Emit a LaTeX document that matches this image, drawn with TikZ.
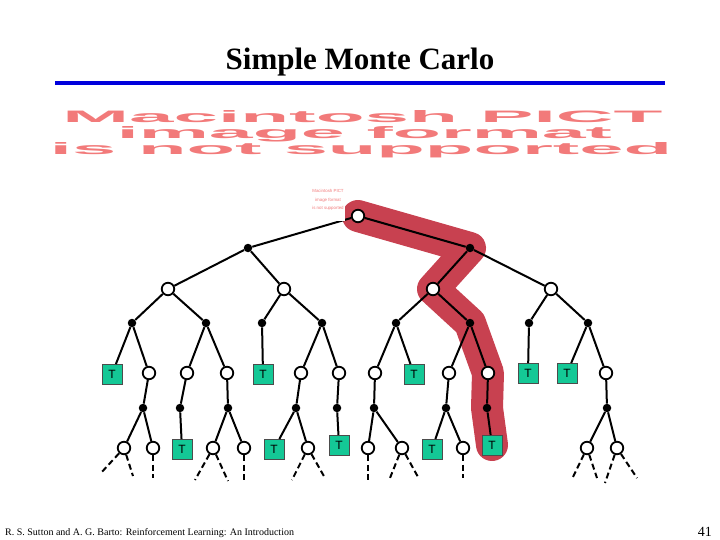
\documentclass[tikz,border=0pt]{standalone}
\usepackage{fontspec}
\setmainfont{Liberation Serif}
\newfontfamily\arialfont{Liberation Sans}
\usepackage{graphicx}
\usetikzlibrary{backgrounds}

\definecolor{pathred}{RGB}{200,65,80}
\definecolor{pictpink}{RGB}{242,122,122}
\definecolor{termgreen}{RGB}{20,200,150}
\definecolor{ruleblue}{RGB}{0,0,220}

\begin{document}
\begin{tikzpicture}[x=1pt,y=-1pt,
    state/.style={circle,draw,fill=white,line width=1.8pt,minimum size=12.5pt,inner sep=0pt},
    action/.style={circle,fill=black,minimum size=8.5pt,inner sep=0pt},
    term/.style={draw=black!70,fill=termgreen,minimum size=19.5pt,inner sep=0pt,font=\arialfont\fontsize{12}{12}\selectfont},
    edge/.style={line width=2pt},
    tail/.style={line width=2pt,dash pattern=on 6pt off 3.5pt},
    backup/.style={pathred,line width=32pt,line cap=round,line join=round}]
    \useasboundingbox (0,0) rectangle (720,540);

    % heading
    \node[anchor=base,font=\bfseries\fontsize{31}{36}\selectfont] (title) at (360,70) {Simple Monte Carlo};
    \draw[ruleblue,line width=4pt] (55,83) -- (665,83);

    % missing picture text
    \node[anchor=base,text=pictpink,inner sep=0pt] (pict1) at (362.5,123) {\resizebox{600pt}{12pt}{\arialfont\bfseries Macintosh PICT}};
    \node[anchor=base,text=pictpink,inner sep=0pt] (pict2) at (364.5,138.5) {\resizebox{495pt}{12pt}{\arialfont\bfseries image format}};
    \node[anchor=base,text=pictpink,inner sep=0pt] (pict3) at (361,155) {\resizebox{622pt}{12pt}{\arialfont\bfseries is not supported}};

    % root and first levels
    \node[state] (s0) at (358,216) {};
    \node[action] (a1) at (248,248) {};
    \node[action] (a2) at (470,248) {};
    \node[state] (s1) at (168,289) {};
    \node[state] (s2) at (284,289) {};
    \node[state] (s3) at (433,289) {};
    \node[state] (s4) at (551,289) {};
    \node[action] (b1) at (132,323) {};
    \node[action] (b2) at (206,323) {};
    \node[action] (b3) at (262,323) {};
    \node[action] (b4) at (322,323) {};
    \node[action] (b5) at (396,323) {};
    \node[action] (b6) at (470,323) {};
    \node[action] (b7) at (529,323) {};
    \node[action] (b8) at (588,323) {};

    % third level
    \node[term] (n1) at (112,374) {T};
    \node[state] (n2) at (149,373) {};
    \node[state] (n3) at (187,373) {};
    \node[state] (n4) at (227,373) {};
    \node[term] (n5) at (263,374) {T};
    \node[state] (n6) at (301,373) {};
    \node[state] (n7) at (339,373) {};
    \node[state] (n8) at (375,373) {};
    \node[term] (n9) at (414,374) {T};
    \node[state] (n10) at (449,373) {};
    \node[state] (n11) at (488,373) {};
    \node[term] (n12) at (528,373) {T};
    \node[term] (n13) at (567,373) {T};
    \node[state] (n14) at (606,373) {};
    \node[action] (c1) at (143,408) {};
    \node[action] (c2) at (180,408) {};
    \node[action] (c3) at (228,408) {};
    \node[action] (c4) at (296,408) {};
    \node[action] (c5) at (337,408) {};
    \node[action] (c6) at (374,408) {};
    \node[action] (c7) at (446,408) {};
    \node[action] (c8) at (487,408) {};
    \node[action] (c9) at (607,408) {};

    % fourth level
    \node[state] (m1) at (124,448) {};
    \node[state] (m2) at (153,448) {};
    \node[term] (m3) at (182,449) {T};
    \node[state] (m4) at (213,448) {};
    \node[state] (m5) at (244,448) {};
    \node[term] (m6) at (274,449) {T};
    \node[state] (m7) at (308,448) {};
    \node[term] (m8) at (339,445) {T};
    \node[state] (m9) at (368,448) {};
    \node[state] (m10) at (402,448) {};
    \node[term] (m11) at (432,449) {T};
    \node[state] (m12) at (463,448) {};
    \node[term] (m13) at (492,445) {T};
    \node[state] (m14) at (587,448) {};
    \node[state] (m15) at (617,448) {};

    % sampled episode
    \begin{scope}[on background layer]
        \draw[backup] (s0.center) -- (a2.center) -- (s3.center) -- (b6.center)
            -- (n11.center) -- (c8.center) -- (m13.center);
    \end{scope}

    \foreach \p/\c in {s0/a1,s0/a2,a1/s1,a1/s2,a2/s3,a2/s4,
        s1/b1,s1/b2,s2/b3,s2/b4,s3/b5,s3/b6,s4/b7,s4/b8,
        b1/n1,b1/n2,b2/n3,b2/n4,b3/n5,b4/n6,b4/n7,b5/n8,b5/n9,b6/n10,b6/n11,b7/n12,b8/n13,b8/n14,
        n2/c1,n3/c2,n4/c3,n6/c4,n7/c5,n8/c6,n10/c7,n11/c8,n14/c9,
        c1/m1,c1/m2,c2/m3,c3/m4,c3/m5,c4/m6,c4/m7,c5/m8,c6/m9,c6/m10,c7/m11,c7/m12,c8/m13,c9/m14,c9/m15}
        \draw[edge] (\p) -- (\c);

    % unexplored continuations
    \foreach \n/\dx/\dy [count=\k] in {m1/-24/26,m1/9/28,m2/0/30,m4/-18/32,m4/15/33,m5/0/34,
        m7/-16/32,m7/17/30,m9/0/34,m10/-12/30,m10/16/29,m12/0/30,m14/-14/29,m14/10/30,m15/-12/35,m15/20/30} {
        \path (\n) ++(\dx,\dy) coordinate (end\k);
        \draw[tail] (\n) -- (end\k);
    }

    % small missing picture
    \fill[white] (311,186) rectangle (345,221.5);
    \node[align=center,text=pictpink,inner sep=0pt,font=\arialfont\fontsize{4.4}{8.5}\selectfont] (pict0) at (328,200) {Macintosh PICT\\image format\\is not supported};

    % footer
    \node[anchor=base west,inner sep=0pt,font=\fontsize{10}{11}\selectfont] (credit) at (5,535) {R. S. Sutton and A. G. Barto: Reinforcement Learning: An Introduction};
    \node[anchor=base east,inner sep=0pt,font=\fontsize{14}{16}\selectfont] (pageno) at (712,536) {41};
\end{tikzpicture}
\end{document}
